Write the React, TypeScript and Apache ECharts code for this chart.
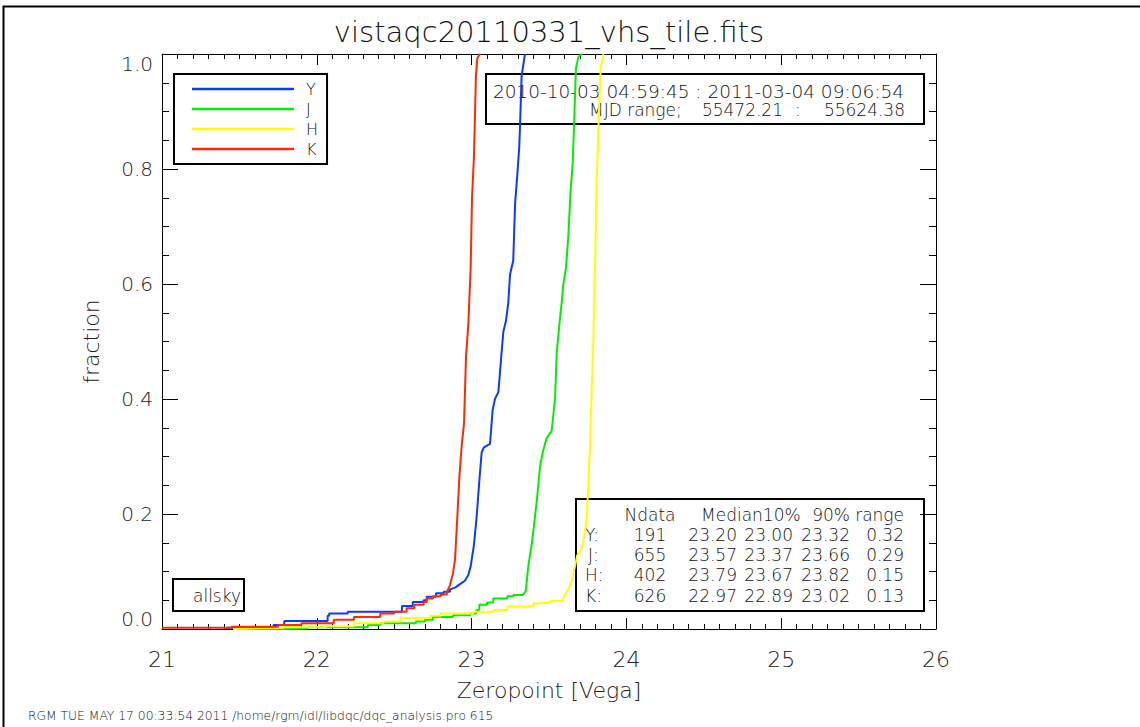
import { useEffect, useRef } from "react";
import * as echarts from "echarts";

const FONT = "DejaVu Sans";
const WEIGHT = 300;

// bands, in draw order (K last, on top)
const bandNames = ["Y", "J", "H", "K"];
const bandColors = ["#0a3cff", "#00f000", "#ffff00", "#ff2a00"];

// cumulative fraction vs zeropoint ([zeropoint, fraction])
const curveY = [
  [21.42, 0], [21.42, 0.002], [21.72, 0.002], [21.72, 0.007], [21.79, 0.007], [21.79, 0.014],
  [22.07, 0.014], [22.07, 0.023], [22.08, 0.023], [22.08, 0.027], [22.2, 0.027], [22.2, 0.03],
  [22.55, 0.03], [22.55, 0.04], [22.62, 0.04], [22.62, 0.047], [22.69, 0.047], [22.69, 0.05],
  [22.71, 0.05], [22.71, 0.056], [22.77, 0.056], [22.77, 0.062], [22.82, 0.062], [22.82, 0.065],
  [22.86, 0.065], [22.86, 0.069], [22.893, 0.072], [22.925, 0.078], [22.957, 0.084],
  [22.979, 0.094], [22.994, 0.109], [23.015, 0.146], [23.033, 0.196], [23.05, 0.258],
  [23.065, 0.307], [23.08, 0.316], [23.119, 0.322], [23.136, 0.381], [23.151, 0.4],
  [23.173, 0.412], [23.188, 0.462], [23.205, 0.517], [23.222, 0.536], [23.237, 0.567],
  [23.248, 0.616], [23.269, 0.641], [23.281, 0.74], [23.295, 0.789], [23.308, 0.839],
  [23.313, 0.876], [23.323, 0.962], [23.334, 0.981], [23.345, 1.0],
];
const curveJ = [
  [21.78, 0], [21.78, 0.001], [21.94, 0.001], [21.94, 0.003], [22.33, 0.003], [22.33, 0.007],
  [22.41, 0.007], [22.41, 0.01], [22.64, 0.01], [22.64, 0.013], [22.7, 0.013], [22.7, 0.016],
  [22.75, 0.016], [22.75, 0.021], [22.88, 0.021], [22.88, 0.024], [22.99, 0.024], [22.99, 0.027],
  [23.03, 0.027], [23.03, 0.033], [23.05, 0.033], [23.05, 0.042], [23.1, 0.042], [23.1, 0.046],
  [23.14, 0.046], [23.14, 0.053], [23.23, 0.053], [23.23, 0.057], [23.27, 0.057], [23.27, 0.059],
  [23.33, 0.059], [23.33, 0.06], [23.35, 0.066], [23.366, 0.109], [23.388, 0.146],
  [23.41, 0.196], [23.425, 0.233], [23.442, 0.282], [23.459, 0.307], [23.485, 0.332],
  [23.517, 0.344], [23.539, 0.4], [23.55, 0.48], [23.567, 0.53], [23.582, 0.567],
  [23.592, 0.598], [23.61, 0.629], [23.625, 0.684], [23.64, 0.765], [23.653, 0.808],
  [23.661, 0.87], [23.674, 0.975], [23.69, 0.995], [23.711, 1.0],
];
const curveH = [
  [21.46, 0], [21.46, 0.001], [21.78, 0.001], [21.78, 0.003], [22.06, 0.003], [22.06, 0.005],
  [22.24, 0.005], [22.24, 0.01], [22.43, 0.01], [22.43, 0.013], [22.54, 0.013], [22.54, 0.019],
  [22.73, 0.019], [22.73, 0.023], [22.8, 0.023], [22.8, 0.027], [23.01, 0.027], [23.01, 0.03],
  [23.14, 0.03], [23.14, 0.033], [23.23, 0.033], [23.23, 0.039], [23.4, 0.039], [23.4, 0.045],
  [23.44, 0.045], [23.44, 0.046], [23.51, 0.046], [23.51, 0.049], [23.59, 0.049], [23.59, 0.053],
  [23.604, 0.06], [23.625, 0.069], [23.646, 0.084], [23.668, 0.109], [23.682, 0.128],
  [23.7, 0.134], [23.711, 0.14], [23.726, 0.159], [23.743, 0.19], [23.754, 0.251],
  [23.765, 0.319], [23.776, 0.419], [23.786, 0.499], [23.797, 0.629], [23.808, 0.777],
  [23.819, 0.87], [23.834, 0.975], [23.851, 1.0],
];
const curveK = [
  [21.0, 0.002], [21.45, 0.002], [21.45, 0.004], [21.75, 0.004], [21.75, 0.007], [21.9, 0.007],
  [21.9, 0.01], [22.11, 0.01], [22.11, 0.016], [22.24, 0.016], [22.24, 0.021], [22.41, 0.021],
  [22.41, 0.027], [22.5, 0.027], [22.5, 0.03], [22.58, 0.03], [22.58, 0.036], [22.63, 0.036],
  [22.63, 0.042], [22.69, 0.042], [22.69, 0.047], [22.71, 0.047], [22.71, 0.053], [22.75, 0.053],
  [22.75, 0.057], [22.8, 0.057], [22.8, 0.06], [22.84, 0.06], [22.84, 0.064], [22.86, 0.076],
  [22.88, 0.097], [22.893, 0.121], [22.908, 0.196], [22.921, 0.264], [22.936, 0.319],
  [22.951, 0.357], [22.964, 0.474], [22.979, 0.53], [22.994, 0.629], [23.003, 0.752],
  [23.015, 0.82], [23.028, 0.962], [23.037, 0.993], [23.054, 1.0],
];
const curves = [curveY, curveJ, curveH, curveK];

const yTickLabels = ["0.0", "0.2", "0.4", "0.6", "0.8", "1.0"];

// summary table
const statBands = ["Y:", "J:", "H:", "K:"];
const statN = [191, 655, 402, 626];
const statMedian = [23.2, 23.57, 23.79, 22.97];
const statP10 = [23.0, 23.37, 23.67, 22.89];
const statP90 = [23.32, 23.66, 23.82, 23.02];
const statRange = [0.32, 0.29, 0.15, 0.13];

const titleText = "vistaqc20110331_vhs_tile.fits";
const dateRange = "2010-10-03 04:59:45 : 2011-03-04 09:06:54";
const mjdStart = "55472.21";
const mjdEnd = "55624.38";
const footer = "RGM TUE MAY 17 00:33:54 2011 /home/rgm/idl/libdqc/dqc_analysis.pro 615";

function txt(x: number, y: number, text: string, size: number, align = "left") {
  return {
    type: "text",
    x,
    y,
    silent: true,
    style: {
      text,
      fontFamily: FONT,
      fontWeight: WEIGHT,
      fontSize: size,
      fill: "#111",
      textAlign: align,
      textVerticalAlign: "middle",
      align,
      verticalAlign: "middle",
    },
  };
}

function box(x: number, y: number, w: number, h: number) {
  return {
    type: "rect",
    silent: true,
    shape: { x, y, width: w, height: h },
    style: { fill: "none", stroke: "#000", lineWidth: 2 },
  };
}

export default function App() {
  const ref = useRef<HTMLDivElement>(null);

  useEffect(() => {
    const el = ref.current;
    if (!el) return;
    const chart = echarts.init(el, undefined, { renderer: "svg" });

    const axisLine = { onZero: false, lineStyle: { color: "#000", width: 1 } };
    const xTick = { inside: true, length: 11, lineStyle: { color: "#000" } };
    const xMinor = { show: true, splitNumber: 10, length: 5, lineStyle: { color: "#000" } };
    const yTick = { inside: true, length: 16, lineStyle: { color: "#000" } };
    const yMinor = { show: true, splitNumber: 4, length: 7, lineStyle: { color: "#000" } };
    const labelFont = { fontFamily: FONT, fontWeight: WEIGHT, color: "#222" };

    const rowsY = [535, 555, 575, 596];
    const stats: any[] = [
      box(576, 499, 348, 112),
      txt(650, 515, "Ndata", 17, "center"),
      txt(701, 515, "Median10%", 17),
      txt(850, 515, "90%", 17, "right"),
      txt(904, 515, "range", 17, "right"),
    ];
    statBands.forEach((b, i) => {
      const y = rowsY[i];
      stats.push(
        txt(b === "J:" ? 588 : 585, y, b, 17),
        txt(650, y, String(statN[i]), 17, "center"),
        txt(737, y, statMedian[i].toFixed(2), 17, "right"),
        txt(793, y, statP10[i].toFixed(2), 17, "right"),
        txt(850, y, statP90[i].toFixed(2), 17, "right"),
        txt(904, y, statRange[i].toFixed(2), 17, "right"),
      );
    });

    chart.setOption({
      animation: false,
      backgroundColor: "#fff",
      grid: { left: 162, top: 54, width: 774, height: 575, containLabel: false },
      legend: {
        left: 174,
        top: 74,
        orient: "vertical",
        icon: "rect",
        itemWidth: 102,
        itemHeight: 2.5,
        itemGap: 0,
        padding: [5, 9, 5, 18],
        borderColor: "#000",
        borderWidth: 2,
        selectedMode: false,
        itemStyle: { borderWidth: 0 },
        textStyle: { ...labelFont, fontSize: 16, color: "#111", lineHeight: 20, padding: [0, 0, 0, 7] },
        data: bandNames,
      },
      xAxis: [
        {
          type: "value",
          position: "bottom",
          min: 21,
          max: 26,
          interval: 1,
          axisLine,
          axisTick: xTick,
          minorTick: xMinor,
          splitLine: { show: false },
          axisLabel: { ...labelFont, margin: 19, fontSize: 22 },
          name: "Zeropoint [Vega]",
          nameLocation: "middle",
          nameGap: 50,
          nameTextStyle: { ...labelFont, fontSize: 22 },
        },
        {
          type: "value",
          position: "top",
          min: 21,
          max: 26,
          interval: 1,
          axisLine,
          axisTick: xTick,
          minorTick: xMinor,
          splitLine: { show: false },
          axisLabel: { show: false },
        },
      ],
      yAxis: [
        {
          type: "value",
          position: "left",
          min: 0,
          max: 1,
          interval: 0.2,
          axisLine,
          axisTick: yTick,
          minorTick: yMinor,
          splitLine: { show: false },
          axisLabel: {
            ...labelFont,
            margin: 9,
            fontSize: 20,
            formatter: (v: number) => yTickLabels[Math.round(v / 0.2)],
            verticalAlignMinLabel: "bottom",
            verticalAlignMaxLabel: "top",
          },
          name: "fraction",
          nameLocation: "middle",
          nameGap: 60,
          nameTextStyle: { ...labelFont, fontSize: 22 },
        },
        {
          type: "value",
          position: "right",
          min: 0,
          max: 1,
          interval: 0.2,
          axisLine,
          axisTick: yTick,
          minorTick: yMinor,
          splitLine: { show: false },
          axisLabel: { show: false },
        },
      ],
      series: bandNames.map((name, i) => ({
        name,
        type: "line",
        data: curves[i],
        symbol: "none",
        showSymbol: false,
        clip: true,
        lineStyle: { color: bandColors[i], width: 2 },
        itemStyle: { color: bandColors[i] },
      })),
      graphic: [
        {
          type: "polyline",
          silent: true,
          shape: { points: [[3.5, 727], [3.5, 6.5], [1140, 6.5]] },
          style: { fill: "none", stroke: "#000", lineWidth: 2 },
        },
        txt(549, 32, titleText, 29, "center"),
        box(486, 74, 438, 50),
        txt(493, 91, dateRange, 18.5),
        txt(589, 110, "MJD range;", 17),
        txt(783, 110, mjdStart, 17, "right"),
        txt(795, 110, ":", 17),
        txt(905, 110, mjdEnd, 17, "right"),
        ...stats,
        box(173, 579, 71, 32),
        txt(193, 596, "allsky", 17),
        txt(28, 716, footer, 12.3),
      ],
    });

    return () => chart.dispose();
  }, []);

  return (
    <div
      ref={ref}
      style={{ position: "fixed", left: 0, top: 0, width: 1140, height: 727, background: "#fff" }}
    />
  );
}
